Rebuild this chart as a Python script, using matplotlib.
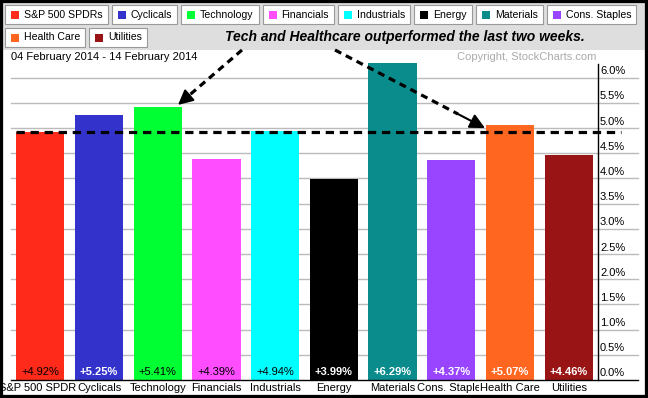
import matplotlib.pyplot as plt
from matplotlib.patches import Rectangle
from matplotlib.transforms import offset_copy

plt.rcParams['font.family'] = ['Liberation Sans', 'DejaVu Sans']

# sector performance, 04 Feb 2014 - 14 Feb 2014
sectors = ['S&P 500 SPDRs', 'Cyclicals', 'Technology', 'Financials', 'Industrials',
           'Energy', 'Materials', 'Cons. Staples', 'Health Care', 'Utilities']
changes = [4.92, 5.25, 5.41, 4.39, 4.94, 3.99, 6.29, 4.37, 5.07, 4.46]
colors = ['#ff2a1a', '#3333cc', '#00ff33', '#ff4dff', '#00ffff',
          '#000000', '#0a8c8c', '#9944ff', '#ff6620', '#991515']
label_colors = ['black', 'white', 'black', 'black', 'black',
                'white', 'white', 'white', 'white', 'white']
yticks = [0.0, 0.5, 1.0, 1.5, 2.0, 2.5, 3.0, 3.5, 4.0, 4.5, 5.0, 5.5, 6.0]

W, H = 648, 398
fig = plt.figure(figsize=(W / 100, H / 100), dpi=100, facecolor='white')


def fx(x):
    return x / W


def fy(y):
    return 1 - y / H


# grey header
fig.patches.append(Rectangle((0, fy(50)), 1, 1 - fy(50), transform=fig.transFigure,
                             facecolor='#dedede', edgecolor='none', zorder=-2))

ax = fig.add_axes([fx(11), fy(380), fx(598) - fx(11), fy(50) - fy(380)])
ax.set_facecolor('none')
ax.set_xlim(-0.5, 9.5)
ax.set_ylim(0, 6.55)
for s in ax.spines.values():
    s.set_visible(False)
ax.set_xticks([])
ax.set_yticks([])

x = list(range(len(sectors)))

# gridlines (extend past the right axis)
for v in yticks[1:]:
    ax.plot([-0.5, 10.18], [v, v], color='#bbbbbb', lw=1, clip_on=False, zorder=0)
ax.plot([-0.5, 10.18], [0, 0], color='black', lw=1, clip_on=False, zorder=3)
ax.plot([9.5, 9.5], [0, 6.27], color='black', lw=1, clip_on=False, zorder=3)

ax.bar(x, changes, width=0.82, color=colors, zorder=2)

for i, (v, c) in enumerate(zip(changes, label_colors)):
    ax.text(i, 0.16, '+%.2f%%' % v, ha='center', va='center', fontsize=8,
            color=c, fontweight='bold' if c == 'white' else 'normal', zorder=4)

# x labels, later ones cover earlier ones
for i, name in enumerate(sectors):
    ax.text(i, -0.16, name, ha='center', va='center', fontsize=8, color='black',
            clip_on=False, zorder=5 + i,
            bbox=dict(facecolor='white', edgecolor='none', pad=0.5))

# y labels sit just above their gridline
ytrans = offset_copy(ax.get_yaxis_transform(), fig=fig, x=2, y=1.5, units='dots')
for v in yticks:
    ax.text(1.0, v, '%.1f%%' % v, transform=ytrans, ha='left', va='bottom',
            fontsize=8, color='black')

# benchmark line
ax.plot([-0.42, 9.9], [changes[0], changes[0]], color='black', lw=2.3,
        linestyle=(0, (2.6, 1.8)), clip_on=False, zorder=6)

# arrows
arrows = [((3.435, 6.55), (2.345, 5.46)), ((5.02, 6.55), (7.575, 5.0))]
for (x0, y0), (x1, y1) in arrows:
    fr = 0.82
    xm, ym = x0 + (x1 - x0) * fr, y0 + (y1 - y0) * fr
    ax.plot([x0, xm], [y0, ym], color='black', lw=2.3, linestyle=(0, (2.2, 1.6)),
            clip_on=False, zorder=6)
    ax.annotate('', xy=(x1, y1), xytext=(xm, ym), annotation_clip=False,
                arrowprops=dict(arrowstyle='-|>,head_length=0.9,head_width=0.45',
                                color='black', lw=1.5, shrinkA=0, shrinkB=0),
                zorder=6)

fig.text(fx(405), fy(37), 'Tech and Healthcare outperformed the last two weeks.',
         ha='center', va='center', fontsize=10, fontweight='bold', style='italic')
fig.text(fx(11), fy(57), '04 February 2014 - 14 February 2014', ha='left',
         va='center', fontsize=8)
fig.text(fx(596), fy(57), 'Copyright, StockCharts.com', ha='right', va='center',
         fontsize=8, color='#aaaaaa')

# legend buttons
fig.canvas.draw()
renderer = fig.canvas.get_renderer()
bx, by = 5, 5
bh = 19
for name, c in zip(sectors, colors):
    t = fig.text(0, 0, name, fontsize=7.6, ha='left', va='center', zorder=4)
    tw = t.get_window_extent(renderer).width
    bw = 6 + 8 + 5 + tw + 5
    if bx + bw > 646:
        bx = 5
        by += bh + 4
    fig.patches.append(Rectangle((fx(bx), fy(by + bh)), bw / W, bh / H,
                                 transform=fig.transFigure, facecolor='white',
                                 edgecolor='#999999', lw=0.8, zorder=2))
    fig.patches.append(Rectangle((fx(bx + 6), fy(by + bh / 2 + 4)), 8 / W, 8 / H,
                                 transform=fig.transFigure, facecolor=c,
                                 edgecolor='none', zorder=3))
    t.set_position((fx(bx + 19), fy(by + bh / 2)))
    bx += bw + 4

# black frame
fig.patches.append(Rectangle((0, 0), 1, 1, transform=fig.transFigure, fill=False,
                             edgecolor='black', lw=4.5, zorder=20))

fig.savefig('out.png', dpi=100, facecolor='white')
